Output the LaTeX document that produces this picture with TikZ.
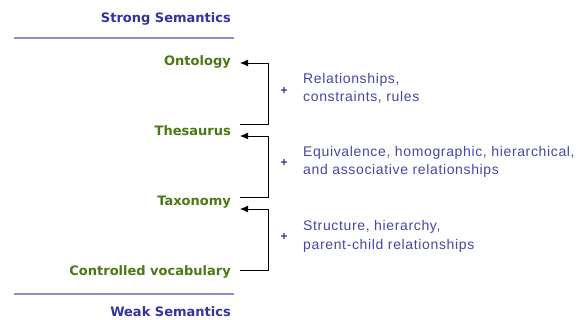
\documentclass[tikz,border=0pt]{standalone}
\usepackage{fontspec}
\setmainfont{Liberation Sans}
\newfontfamily\labelfont{DejaVu Sans}
\newfontfamily\notefont[LetterSpace=4.6]{Liberation Sans}
\usetikzlibrary{arrows.meta}

\definecolor{headblue}{HTML}{333399}
\definecolor{noteblue}{HTML}{4646A6}
\definecolor{levelgreen}{HTML}{4A7812}
\definecolor{rulecolor}{HTML}{8C8CCC}

\begin{document}
\begin{tikzpicture}[x=1pt,y=-1pt,
    heading/.style={anchor=base east,inner sep=0pt,text=headblue,
      font=\labelfont\bfseries\fontsize{13}{15}\selectfont},
    level/.style={anchor=base east,inner sep=0pt,text=levelgreen,
      font=\labelfont\bfseries\fontsize{13}{15}\selectfont},
    note/.style={anchor=base west,align=left,inner sep=0pt,text=noteblue,
      font=\notefont\fontsize{14}{18.5}\selectfont},
    plus/.style={inner sep=0pt,text=headblue,font=\bfseries\fontsize{12}{12}\selectfont},
    divider/.style={rulecolor,line width=1.2pt},
    link/.style={-{Latex[length=8pt,width=7pt]},line width=0.9pt}]
  \useasboundingbox (0,0) rectangle (585,320);

  % headings and dividers
  \node[heading] (strong) at (231,23) {Strong Semantics};
  \node[heading] (weak) at (231,316) {Weak Semantics};
  \draw[divider] (14,38) -- (234,38);
  \draw[divider] (14,294) -- (234,294);

  % levels
  \node[level] (onto) at (231,66) {Ontology};
  \node[level] (thes) at (231,136) {Thesaurus};
  \node[level] (taxo) at (231,205) {Taxonomy};
  \node[level] (vocab) at (231,275) {Controlled vocabulary};

  % links between levels
  \draw[link] ([xshift=9pt,yshift=12pt]thes.base east) -- ++(28,0) |- ([xshift=9pt,yshift=3pt]onto.base east);
  \draw[link] ([xshift=9pt,yshift=8pt]taxo.base east) -- ++(28,0) |- ([xshift=9pt]thes.base east);
  \draw[link] ([xshift=9pt,yshift=5pt]vocab.base east) -- ++(28,0) |- ([xshift=9pt,yshift=-4pt]taxo.base east);

  % what each step adds
  \node[plus] (p1) at (284,91) {+};
  \node[plus] (p2) at (284,163) {+};
  \node[plus] (p3) at (284,237) {+};
  \node[note] (n1) at (303,102) {Relationships,\\constraints, rules};
  \node[note] (n2) at (303,175) {Equivalence, homographic, hierarchical,\\and associative relationships};
  \node[note] (n3) at (303,249) {Structure, hierarchy,\\parent-child relationships};
\end{tikzpicture}
\end{document}
